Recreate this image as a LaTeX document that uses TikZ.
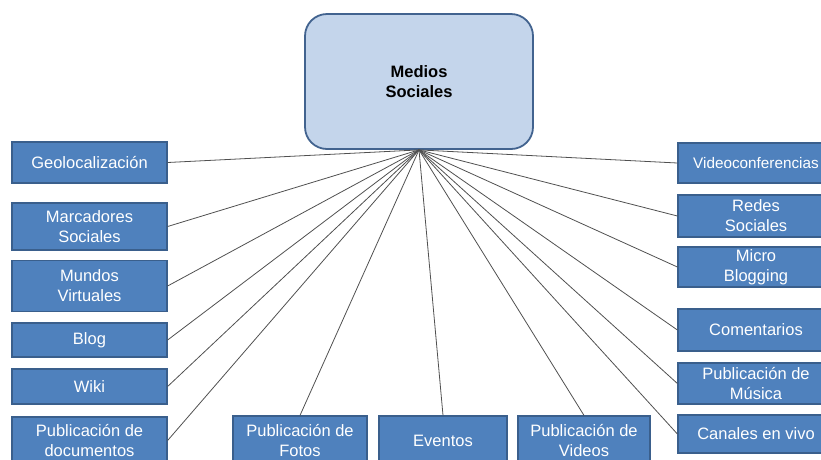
\documentclass[tikz,border=0pt]{standalone}
\usepackage{fontspec}
\setmainfont{Liberation Sans}
\usepackage{xcolor}
\usepackage{tikz}

\definecolor{cajaazul}{HTML}{4F81BD}
\definecolor{bordeazul}{HTML}{3A5F8C}
\definecolor{centroazul}{HTML}{C4D5EB}
\definecolor{bordecentro}{HTML}{42638F}
\definecolor{linea}{HTML}{505050}

\tikzset{
	rama/.style={draw=bordeazul, line width=1.2pt, fill=cajaazul, text=white, align=center, inner sep=2pt, font=\fontsize{16.5}{20}\selectfont},
	centro/.style={draw=bordecentro, line width=1.8pt, fill=centroazul, rounded corners=22pt, align=center, font=\fontsize{16.5}{19.5}\selectfont\bfseries},
	enlace/.style={draw=linea, line width=0.8pt}
}

\begin{document}
\begin{tikzpicture}[x=1pt, y=-1pt]
	\clip (0,0) rectangle (821,459);
	
	\node [centro, minimum width=228pt, minimum height=135pt] (medios) at (419,81.5) {Medios\\Sociales};
	
	\node [rama, minimum width=155pt, minimum height=41pt] (geo) at (89.5,162.5) {Geolocalización};
	\node [rama, minimum width=155pt, minimum height=47pt] (marcadores) at (89.5,226.5) {Marcadores\\Sociales};
	\node [rama, minimum width=155pt, minimum height=51pt] (mundos) at (89.5,286) {Mundos\\Virtuales};
	\node [rama, minimum width=155pt, minimum height=34pt] (blog) at (89.5,340) {Blog};
	\node [rama, minimum width=155pt, minimum height=35pt] (wiki) at (89.5,386.5) {Wiki};
	\node [rama, minimum width=155pt, minimum height=47pt] (documentos) at (89.5,440.5) {Publicación de\\documentos};
	
	\node [rama, minimum width=134pt, minimum height=48pt] (fotos) at (300,440) {Publicación de\\Fotos};
	\node [rama, minimum width=128pt, minimum height=50pt] (eventos) at (443,441) {Eventos};
	\node [rama, minimum width=132pt, minimum height=48pt] (videos) at (584,440) {Publicación de\\Videos};
	
	\node [rama, minimum width=156pt, minimum height=40pt, font=\fontsize{15.3}{20}\selectfont] (videoconf) at (756,163) {Videoconferencias};
	\node [rama, minimum width=156pt, minimum height=42pt] (redes) at (756,216) {Redes\\Sociales};
	\node [rama, minimum width=156pt, minimum height=40pt] (micro) at (756,267) {Micro\\Blogging};
	\node [rama, minimum width=156pt, minimum height=42pt] (comentarios) at (756,330) {Comentarios};
	\node [rama, minimum width=156pt, minimum height=41pt] (musica) at (756,383.5) {Publicación de\\Música};
	\node [rama, minimum width=156pt, minimum height=38pt] (canales) at (756,434) {Canales en vivo};
	
	\draw [enlace] (medios.south) -- (geo.east);
	\draw [enlace] (medios.south) -- (marcadores.east);
	\draw [enlace] (medios.south) -- (mundos.east);
	\draw [enlace] (medios.south) -- (blog.east);
	\draw [enlace] (medios.south) -- (wiki.east);
	\draw [enlace] (medios.south) -- (documentos.east);
	
	\draw [enlace] (medios.south) -- (fotos.north);
	\draw [enlace] (medios.south) -- (eventos.north);
	\draw [enlace] (medios.south) -- (videos.north);
	
	\draw [enlace] (medios.south) -- (videoconf.west);
	\draw [enlace] (medios.south) -- (redes.west);
	\draw [enlace] (medios.south) -- (micro.west);
	\draw [enlace] (medios.south) -- (comentarios.west);
	\draw [enlace] (medios.south) -- (musica.west);
	\draw [enlace] (medios.south) -- (canales.west);
	
\end{tikzpicture}
\end{document}
